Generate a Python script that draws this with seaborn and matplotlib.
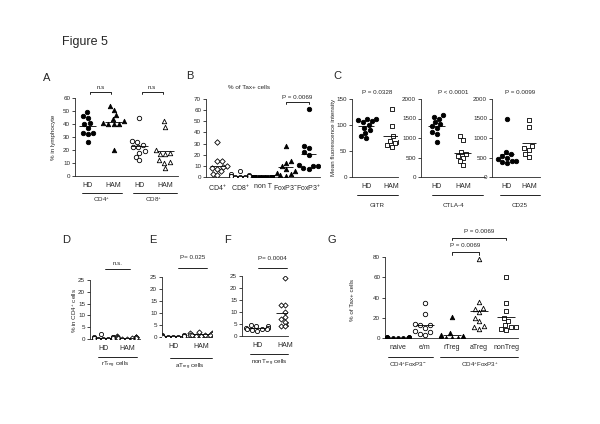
import numpy as np
import pandas as pd
import matplotlib
matplotlib.use('Agg')
import matplotlib.pyplot as plt
import seaborn as sns

sns.set_style('ticks')
plt.rcParams['font.family'] = ['Liberation Sans', 'DejaVu Sans']
plt.rcParams['mathtext.fontset'] = 'custom'
plt.rcParams['mathtext.rm'] = 'Liberation Sans'
plt.rcParams['mathtext.it'] = 'Liberation Sans:italic'

# ---- data ----
# A: % in lymphocyte
a_groups = ['HD CD4', 'HAM CD4', 'HD CD8', 'HAM CD8']
a_ticks = ['HD', 'HAM', 'HD', 'HAM']
a_hd_cd4 = [49, 46, 45, 41, 40, 37, 33, 33, 32, 26]
a_ham_cd4 = [54, 51, 47, 44, 42, 41, 40, 40, 40, 20]
a_hd_cd8 = [45, 27, 26, 24, 22, 22, 19, 18, 15, 12]
a_ham_cd8 = [42, 38, 20, 18, 17, 17, 12, 11, 10, 6]

# B: % of Tax+ cells
b_groups = ['CD4$^{+}$', 'CD8$^{+}$', 'non T', 'FoxP3$^{-}$', 'FoxP3$^{+}$']
b_cd4 = [31, 14, 14, 10, 9, 8, 7, 5, 3, 2]
b_cd8 = [5, 3, 2, 1, 1, 0.5, 0.5, 0, 0, 0]
b_nont = [0, 0, 0, 0, 0, 0, 0, 0, 0, 0]
b_foxp3_neg = [28, 14, 13, 10, 7, 5, 4, 3, 2, 1]
b_foxp3_pos = [61, 28, 26, 22, 20, 11, 10, 10, 8, 7]

# C: mean fluorescence intensity
c_groups = ['HD', 'HAM']
c_gitr_hd = [112, 112, 110, 108, 105, 100, 95, 90, 85, 78, 75]
c_gitr_ham = [130, 98, 78, 70, 68, 65, 62, 57]
c_ctla_hd = [1600, 1550, 1500, 1400, 1350, 1300, 1250, 1150, 1100, 900]
c_ctla_ham = [1050, 950, 650, 600, 550, 500, 400, 300]
c_cd25_hd = [1500, 650, 600, 550, 500, 450, 420, 400, 380, 350]
c_cd25_ham = [1450, 1270, 800, 750, 700, 600, 520]

# D-F: % in CD4+ cells
d_hd = [2, 1, 1, 0.8, 0.5, 0.5, 0.3, 0.2, 0, 0]
d_ham = [1.2, 1, 1, 0.8, 0.7, 0.6, 0.5, 0.4, 0.3, 0.2, 0.1]
e_hd = [1, 0.8, 0.5, 0.5, 0.3, 0.3, 0.2, 0.1, 0, 0]
e_ham = [2, 1.5, 1.5, 1.2, 1, 1, 1, 0.8, 0.5, 0.3]
f_hd = [4.5, 4, 4, 3.5, 3.5, 3, 3, 3, 2.5, 2]
f_ham = [24, 13, 13, 10, 8, 7, 6, 5, 4, 4]

# G: % of Tax+ cells
g_groups = ['naive', 'e/m', 'rTreg', 'aTreg', 'nonTreg']
g_naive = [1, 1, 0.5, 0.5, 0, 0, 0, 0, 0, 0]
g_em = [35, 24, 14, 13, 13, 10, 7, 6, 4, 3]
g_rtreg = [21, 5, 3, 2, 1, 1, 0, 0, 0, 0]
g_atreg = [78, 36, 30, 29, 26, 20, 17, 12, 11, 9]
g_nontreg = [60, 35, 27, 20, 17, 13, 11, 11, 9, 8]

fig = plt.figure(figsize=(6, 4.24), dpi=100)
TICK = 4.5
LAB = 5


def px_axes(x0, x1, ytop, ybot):
    return fig.add_axes([x0 / 600, 1 - ybot / 424, (x1 - x0) / 600, (ybot - ytop) / 424])


def dots(ax, names, series, styles, ticks=None, size=3, half=0.33):
    df = pd.concat([pd.DataFrame({'group': n, 'value': v}) for n, v in zip(names, series)])
    for i, (n, v, (mk, filled, sz)) in enumerate(zip(names, series, styles)):
        sns.swarmplot(data=df[df['group'] == n], x='group', y='value', order=names,
                      marker=mk, color='black' if filled else 'white',
                      edgecolor='black', linewidth=0.6, size=sz, ax=ax)
        ax.hlines(np.mean(v), i - half, i + half, color='black', lw=0.6, zorder=5)
    ax.set_xlabel('')
    ax.set_ylabel('')
    ax.set_xticks(range(len(names)))
    ax.set_xticklabels(ticks if ticks else names, fontsize=LAB)
    ax.tick_params(axis='x', length=0, pad=4)
    ax.tick_params(axis='y', labelsize=TICK, length=2, width=0.6, pad=1.5)
    for s in ax.spines.values():
        s.set_linewidth(0.6)
    sns.despine(ax=ax)


def under(ax, x0, x1, y, label, xt, yt):
    ax.plot([x0, x1], [y, y], color='black', lw=0.6, transform=ax.transAxes, clip_on=False)
    ax.text(xt, yt, label, transform=ax.transAxes, ha='center', va='center', fontsize=TICK)


def bracket(ax, x0, x1, y, label, ty, drop=0.03, ends=True):
    tr = ax.get_xaxis_transform()
    if ends:
        ax.plot([x0, x0, x1, x1], [y - drop, y, y, y - drop], color='black', lw=0.6,
                transform=tr, clip_on=False)
    else:
        ax.plot([x0, x1], [y, y], color='black', lw=0.6, transform=tr, clip_on=False)
    ax.text((x0 + x1) / 2, ty, label, transform=tr, ha='center', va='center', fontsize=TICK)


fig.text(62 / 600, 1 - 42 / 424, 'Figure 5', fontsize=9, va='center')

# ---- A ----
fig.text(43 / 600, 1 - 78 / 424, 'A', fontsize=8, va='center')
axA = px_axes(75, 178, 98, 176)
dots(axA, a_groups, [a_hd_cd4, a_ham_cd4, a_hd_cd8, a_ham_cd8],
     [('o', True, 3.2), ('^', True, 3.2), ('o', False, 3.2), ('^', False, 3.2)], ticks=a_ticks)
axA.set_ylim(0, 60)
axA.set_yticks(range(0, 61, 10))
axA.set_xlim(-0.5, 3.5)
bracket(axA, 0.1, 0.9, 1.077, 'n.s', 1.14)
bracket(axA, 2.1, 2.9, 1.077, 'n.s', 1.14)
under(axA, 0.07, 0.46, -0.22, 'CD4$^{+}$', 0.26, -0.3)
under(axA, 0.56, 0.99, -0.22, 'CD8$^{+}$', 0.76, -0.3)
fig.text(53 / 600, 1 - 137 / 424, '% in lymphocyte', rotation=90, fontsize=TICK,
         ha='center', va='center')

# ---- B ----
fig.text(186 / 600, 1 - 76 / 424, 'B', fontsize=8, va='center')
axB = px_axes(206, 320, 99, 177)
dots(axB, b_groups, [b_cd4, b_cd8, b_nont, b_foxp3_neg, b_foxp3_pos],
     [('D', False, 2.8), ('o', False, 3), ('s', True, 2.4), ('^', True, 3.2), ('o', True, 3.2)])
axB.set_ylim(0, 70)
axB.set_yticks(range(0, 71, 10))
axB.set_xlim(-0.5, 4.5)
bracket(axB, 3, 4, 0.96, 'P = 0.0069', 1.02)
axB.text(0.38, 1.15, '% of Tax+ cells', transform=axB.transAxes, ha='center',
         va='center', fontsize=TICK)

# ---- C ----
fig.text(333 / 600, 1 - 76 / 424, 'C', fontsize=8, va='center')
c_sets = [
    (352, 398, (-0.55, 1.25), c_gitr_hd, c_gitr_ham, 150, 50, 'P = 0.0328', 'GITR', 0.11, 1.0, 0.54),
    (421, 485, (-0.6, 1.85), c_ctla_hd, c_ctla_ham, 2000, 500, 'P < 0.0001', 'CTLA-4', 0.17, 0.97, 0.5),
    (492, 540, (-0.68, 1.5), c_cd25_hd, c_cd25_ham, 2000, 500, 'P = 0.0099', 'CD25', 0.17, 1.0, 0.58),
]
for x0, x1, xl, hd, ham, top, step, ptxt, name, u0, u1, uc in c_sets:
    ax = px_axes(x0, x1, 99, 177)
    dots(ax, c_groups, [hd, ham], [('o', True, 3.2), ('s', False, 3)])
    ax.set_ylim(0, top)
    ax.set_yticks(range(0, top + 1, step))
    ax.set_xlim(*xl)
    ax.text(uc, 1.077, ptxt, transform=ax.transAxes, ha='center', va='center', fontsize=TICK)
    under(ax, u0, u1, -0.23, name, uc, -0.37)
fig.text(334 / 600, 1 - 137 / 424, 'Mean fluorescence intensity', rotation=90,
         fontsize=TICK, ha='center', va='center')

# ---- D, E, F ----
def_sets = [
    ('D', 62, (90, 140, 280, 339), (-0.55, 1.55), d_hd, d_ham, 'n.s.', (0.1, 1.15),
     1.186, 1.28, 'rT$_{\\mathrm{reg}}$ cells', (0.16, 0.94, 0.5), (-0.3, -0.44)),
    ('E', 149, (162, 212, 277, 337), (-0.4, 1.4), e_hd, e_ham, 'P= 0.025', (0.18, 1.21),
     1.15, 1.32, 'aT$_{\\mathrm{reg}}$ cells', (0.16, 1.0, 0.56), (-0.35, -0.5)),
    ('F', 224, (242, 288, 276, 336), (-0.54, 1.1), f_hd, f_ham, 'P= 0.0004', (0.04, 1.07),
     1.13, 1.3, 'nonT$_{\\mathrm{reg}}$ cells', (0.17, 1.0, 0.59), (-0.3, -0.45)),
]
for letter, lx, box, xl, hd, ham, ptxt, (b0, b1), by, ty, name, (u0, u1, uc), (uy, uty) in def_sets:
    fig.text(lx / 600, 1 - 240 / 424, letter, fontsize=8, va='center')
    ax = px_axes(*box)
    dots(ax, c_groups, [hd, ham], [('o', False, 3), ('D', False, 2.6)])
    ax.set_ylim(0, 25)
    ax.set_yticks(range(0, 26, 5))
    ax.set_xlim(*xl)
    bracket(ax, b0, b1, by, ptxt, ty, ends=False)
    under(ax, u0, u1, uy, name, uc, uty)
fig.text(75 / 600, 1 - 310 / 424, '% in CD4$^{+}$ cells', rotation=90, fontsize=TICK,
         ha='center', va='center')

# ---- G ----
fig.text(328 / 600, 1 - 240 / 424, 'G', fontsize=8, va='center')
axG = px_axes(385, 518, 257, 338)
dots(axG, g_groups, [g_naive, g_em, g_rtreg, g_atreg, g_nontreg],
     [('o', True, 2.8), ('o', False, 3.2), ('^', True, 3.2), ('^', False, 3.2), ('s', False, 3.2)])
axG.set_ylim(0, 80)
axG.set_yticks(range(0, 81, 20))
axG.set_xlim(-0.48, 4.44)
bracket(axG, 2, 4, 1.235, 'P = 0.0069', 1.31)
bracket(axG, 2, 3, 1.06, 'P = 0.0069', 1.136)
under(axG, 0.02, 0.36, -0.235, 'CD4$^{+}$FoxP3$^{-}$', 0.17, -0.33)
under(axG, 0.41, 1.0, -0.235, 'CD4$^{+}$FoxP3$^{+}$', 0.71, -0.33)
fig.text(353 / 600, 1 - 300 / 424, '% of Tax+ cells', rotation=90, fontsize=TICK,
         ha='center', va='center')

fig.savefig('out.png', dpi=100)
